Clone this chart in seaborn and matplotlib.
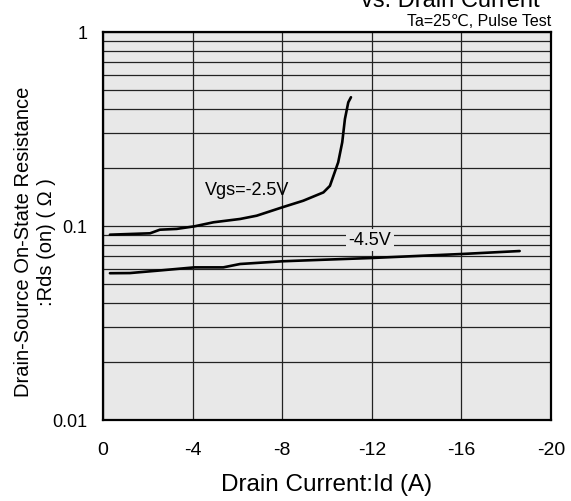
import numpy as np
import pandas as pd
import seaborn as sns
import matplotlib.pyplot as plt
from matplotlib.ticker import FixedLocator, NullFormatter, FixedFormatter

# ---- data ----
id_vgs25 = [-0.31, -2.1, -2.54, -3.29, -4.08, -4.93, -6.12, -6.86, -8.02, -8.94,
            -9.84, -10.13, -10.5, -10.68, -10.8, -10.95, -11.07]
rds_vgs25 = [0.0902, 0.0917, 0.0957, 0.0966, 0.0996, 0.1045, 0.1087, 0.113, 0.125, 0.135,
             0.149, 0.161, 0.213, 0.27, 0.356, 0.434, 0.461]

id_vgs45 = [-0.31, -1.2, -2.4, -4.08, -5.37, -6.12, -8.02, -9.84, -12.0, -14.3, -16.1, -18.6]
rds_vgs45 = [0.0571, 0.0572, 0.0588, 0.0612, 0.0612, 0.0637, 0.0658, 0.067, 0.0684, 0.0703,
             0.0718, 0.0743]

x_ticks = [0, -4, -8, -12, -16, -20]
x_tick_labels = ["0", "-4", "-8", "-12", "-16", "-20"]
y_ticks = [0.01, 0.1, 1]
y_tick_labels = ["0.01", "0.1", "1"]
y_minor = [0.02, 0.03, 0.04, 0.05, 0.06, 0.07, 0.08, 0.09,
           0.2, 0.3, 0.4, 0.5, 0.6, 0.7, 0.8, 0.9]

df25 = pd.DataFrame({"Id": id_vgs25, "Rds": rds_vgs25})
df45 = pd.DataFrame({"Id": id_vgs45, "Rds": rds_vgs45})

sns.set_theme(style="white")
plt.rcParams['font.family'] = ['Liberation Sans', 'DejaVu Sans']

W, H = 571, 502
fig = plt.figure(figsize=(W / 100, H / 100), dpi=100)
ax = fig.add_axes([103 / W, 1 - 421 / H, (551 - 103) / W, (421 - 33) / H])
bg = '#e8e8e8'
ax.set_facecolor(bg)

ax.set_yscale('log')
ax.set_xlim(0, -20)
ax.set_ylim(0.01, 1)

sns.lineplot(data=df25, x="Id", y="Rds", ax=ax, color='black', linewidth=1.9,
             sort=False, estimator=None)
sns.lineplot(data=df45, x="Id", y="Rds", ax=ax, color='black', linewidth=1.9,
             sort=False, estimator=None)

ax.xaxis.set_major_locator(FixedLocator(x_ticks))
ax.xaxis.set_major_formatter(FixedFormatter(x_tick_labels))
ax.yaxis.set_major_locator(FixedLocator(y_ticks))
ax.yaxis.set_major_formatter(FixedFormatter(y_tick_labels))
ax.yaxis.set_minor_locator(FixedLocator(y_minor))
ax.yaxis.set_minor_formatter(NullFormatter())

ax.tick_params(axis='both', which='both', length=0)
ax.tick_params(axis='x', pad=15, labelsize=14, colors='black')
ax.tick_params(axis='y', pad=11, labelsize=13, colors='black')

ax.grid(True, axis='y', which='both', color='#222222', linewidth=0.9)
ax.grid(True, axis='x', which='major', color='#222222', linewidth=0.9)
ax.set_axisbelow(True)
for s in ax.spines.values():
    s.set_visible(True)
    s.set_color('black')
    s.set_linewidth(1.6)

ax.set_xlabel("Drain Current:Id (A)", fontsize=17.5, color='black', labelpad=11)
ax.set_ylabel("")

fig.text(35 / W, 1 - 242 / H, "Drain-Source On-State Resistance\n:Rds (on) ( Ω )",
         rotation=90, ha='center', va='center', multialignment='center',
         fontsize=14.5, color='black', linespacing=1.2)

ax.text(-6.43, 0.155, "Vgs=-2.5V", fontsize=13, ha='center', va='center', color='black')
ax.text(-11.92, 0.0847, "-4.5V", fontsize=13, ha='center', va='center', color='black',
        bbox=dict(facecolor=bg, edgecolor='none', pad=1.5))

fig.text(540 / W, 1 - 7 / H, "vs. Drain Current", ha='right', va='baseline',
         fontsize=17, color='black')
fig.text(551 / W, 1 - 26 / H, "Ta=25℃, Pulse Test", ha='right', va='baseline',
         fontsize=11.5, color='black')

fig.savefig("out.png", dpi=100, facecolor='white')
